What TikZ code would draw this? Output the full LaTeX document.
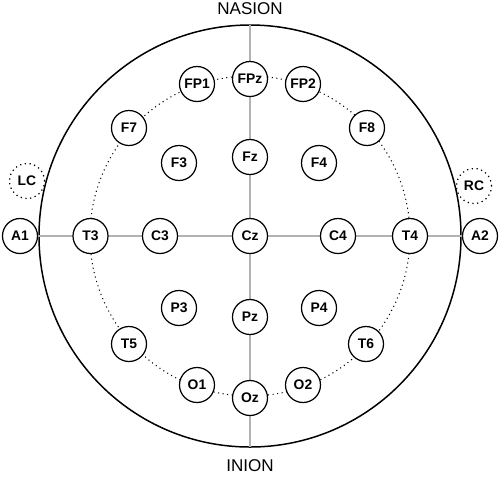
\documentclass[tikz,border=0pt]{standalone}
\usepackage{fontspec}
\setmainfont{Liberation Sans}
\begin{document}
\begin{tikzpicture}[electrode/.style={draw,circle,fill=white,line width=0.7pt,minimum size=0.7cm,inner sep=0pt,font=\fontsize{7.9}{8}\selectfont\bfseries},
	reference/.style={electrode,dotted,fill=none}]
					\useasboundingbox (-5,-4.82) rectangle (5,4.72);
					\draw[line width=0.85pt] (0,0) circle (4.22);
					\draw[dotted,line width=0.6pt] (0,0) circle (3.2);
					\coordinate (top) at (0,4.22);
					\coordinate (bottom) at (0,-4.22);
					\path (0,4.54) node (nasion) {\fontsize{9.7}{10}\selectfont NASION};
					\path (0,-4.6) node (inion) {\fontsize{9.7}{10}\selectfont INION};
					
					\tikzstyle{every node}=[electrode];
					\path (-4.6,0) node (A1) {A1};
					\path (4.6,0) node (A2) {A2};
					\draw[gray!60,line width=0.6pt] (top) -- (bottom);
					\draw[gray!60,line width=0.6pt] (A1) -- (A2);
					
					\path (0,3.14) node (FPz) {FPz};
					\path (-1.06,3.04) node (FP1) {FP1};
					\path (1.06,3.04) node (FP2) {FP2};
					\path (-2.42,2.16) node (F7) {F7};
					\path (2.34,2.16) node (F8) {F8};
					\path (-1.42,1.46) node (F3) {F3};
					\path (0,1.58) node (Fz) {Fz};
					\path (1.38,1.46) node (F4) {F4};
					
					\path (-3.19,0) node (T3) {T3};
					\path (-1.8,0) node (C3) {C3};
					\path (0,0) node (Cz) {Cz};
					\path (1.76,0) node (C4) {C4};
					\path (3.2,0) node (T4) {T4};
					
					\path (-1.42,-1.44) node (P3) {P3};
					\path (0,-1.62) node (Pz) {Pz};
					\path (1.38,-1.44) node (P4) {P4};
					\path (-2.42,-2.16) node (T5) {T5};
					\path (2.32,-2.16) node (T6) {T6};
					\path (-1.06,-2.98) node (O1) {O1};
					\path (0,-3.24) node (Oz) {Oz};
					\path (1.06,-2.98) node (O2) {O2};
					
					\path (-4.46,1.1) node[reference] (LC) {LC};
					\path (4.48,1.0) node[reference] (RC) {RC};
\end{tikzpicture}
\end{document}
